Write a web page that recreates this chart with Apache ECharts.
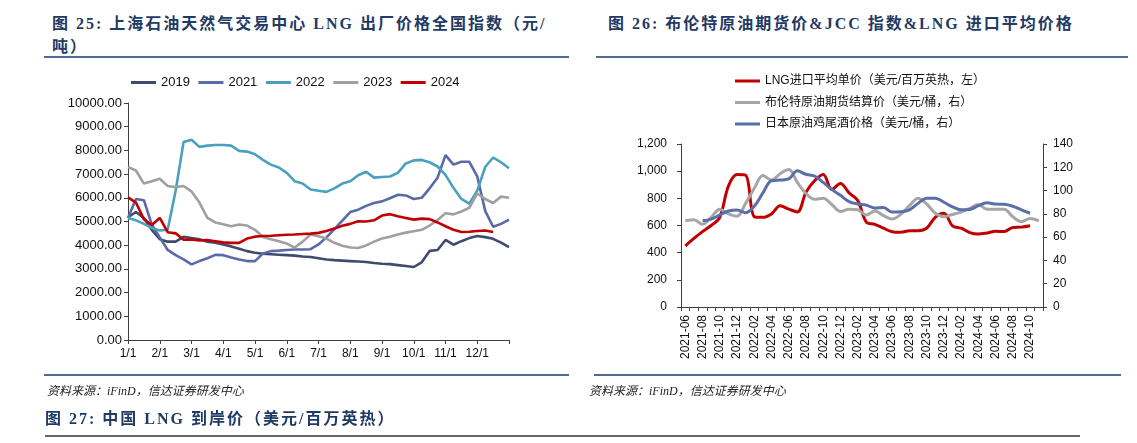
<!DOCTYPE html>
<html><head><meta charset="utf-8">
<script src="https://cdn.jsdelivr.net/npm/echarts@6/dist/echarts.min.js"></script>
<style>
body{margin:0;width:1137px;height:443px;overflow:hidden;background:#fff;position:relative;font-family:"Liberation Sans",Arial,sans-serif;}
#chart{position:absolute;left:0;top:0;width:1137px;height:443px;}
.t{position:absolute;font-family:"Liberation Serif","Noto Sans CJK SC",serif;font-weight:bold;color:#1f3a64;font-size:16px;letter-spacing:2px;white-space:nowrap;line-height:20px;}
.rule{position:absolute;height:2px;background:#4e6d99;}
.src{position:absolute;font-family:"Liberation Serif","Noto Sans CJK SC",serif;font-style:italic;font-size:12px;color:#222;white-space:nowrap;line-height:16px;}
</style></head>
<body>
<div class="t" style="left:52px;top:14px;">图 25: 上海石油天然气交易中心 LNG 出厂价格全国指数（元/</div>
<div class="t" style="left:52px;top:37px;">吨）</div>
<div class="rule" style="left:44px;top:56px;width:525px;"></div>
<div class="t" style="left:608px;top:14px;">图 26: 布伦特原油期货价&amp;JCC 指数&amp;LNG 进口平均价格</div>
<div class="rule" style="left:596px;top:56px;width:532px;"></div>
<div id="chart"></div>
<div class="rule" style="left:44px;top:374px;width:525px;"></div>
<div class="rule" style="left:594px;top:374px;width:527px;"></div>
<div class="src" style="left:47px;top:383px;">资料来源：iFinD，信达证券研发中心</div>
<div class="src" style="left:589px;top:383px;">资料来源：iFinD，信达证券研发中心</div>
<div class="t" style="left:45px;top:409px;">图 27: 中国 LNG 到岸价（美元/百万英热）</div>
<div style="position:absolute;left:45px;top:435px;width:1035px;height:2px;background:#666;"></div>
<script>
// ---- Left chart: LNG ex-factory national index (yuan/ton), one point per ~week ----
const dates = ['1/1','1/8','1/16','1/24','2/1','2/8','2/15','2/22','3/1','3/8','3/16','3/24',
  '4/1','4/8','4/16','4/23','5/1','5/8','5/16','5/24','6/1','6/8','6/16','6/23',
  '7/1','7/8','7/16','7/24','8/1','8/8','8/16','8/24','9/1','9/8','9/16','9/23',
  '10/1','10/8','10/16','10/24','11/1','11/8','11/16','11/23','12/1','12/8','12/16','12/24','12/31'];
const s2019 = [5180,5400,5150,4650, 4250,4150,4150,4350, 4300,4250,4150,4100, 4030,3950,3850,3750,
  3680,3640,3620,3600, 3580,3560,3520,3500, 3450,3400,3370,3350, 3330,3310,3290,3250,
  3220,3200,3160,3120, 3080,3280,3760,3800, 4220,4020,4170,4300, 4390,4340,4270,4110, 3920];
const s2021 = [5150,5950,5900,4870, 4330,3800,3580,3400, 3190,3330,3450,3590, 3580,3480,3400,3330,
  3330,3650,3750,3770, 3800,3820,3820,3830, 4030,4330,4680,5040, 5400,5500,5660,5780,
  5850,5980,6130,6100, 5950,6000,6400,6850, 7800,7400,7520,7520, 6900,5450,4780,4900, 5080];
const s2022 = [5150,5050,4900,4730, 4620,4650,6300,8350, 8450,8150,8200,8230, 8230,8200,7980,7950,
  7840,7600,7400,7280, 7050,6700,6600,6350, 6300,6250,6400,6600, 6700,6950,7100,6850,
  6880,6900,7050,7450, 7580,7600,7500,7320, 6970,6420,5950,5750, 6300,7300,7700,7500, 7250];
const s2023 = [7300,7150,6600,6700, 6800,6500,6450,6500, 6270,5800,5150,4960, 4880,4800,4870,4830,
  4650,4350,4250,4170, 4070,3900,4150,4450, 4380,4280,4100,3980, 3900,3880,3990,4150,
  4280,4360,4450,4530, 4590,4650,4830,5060, 5350,5300,5420,5580, 6180,5950,5780,6050, 6000];
const s2024 = [6020,5800,5100,4850, 5150,4550,4500,4230, 4240,4200,4220,4170, 4120,4100,4100,4280,
  4360,4390,4400,4420, 4440,4450,4470,4490, 4520,4600,4700,4820, 4900,5010,5000,5050,
  5250,5310,5220,5150, 5080,5120,5100,4960, 4800,4650,4560,4570, 4600,4620,4560,null, null];

// ---- Right chart: monthly prices ----
const months = ['2021-06','2021-07','2021-08','2021-09','2021-10','2021-11','2021-12',
  '2022-01','2022-02','2022-03','2022-04','2022-05','2022-06','2022-07','2022-08','2022-09','2022-10','2022-11','2022-12',
  '2023-01','2023-02','2023-03','2023-04','2023-05','2023-06','2023-07','2023-08','2023-09','2023-10','2023-11','2023-12',
  '2024-01','2024-02','2024-03','2024-04','2024-05','2024-06','2024-07','2024-08','2024-09','2024-10','2024-11'];
const lngPrice = [450,505,555,600,660,890,975,970,665,660,685,745,720,700,845,930,975,865,910,
  840,785,625,608,580,554,550,561,562,580,660,690,598,580,548,537,545,557,555,586,588,598,null];
const brentPrice = [74,75,71,77,84,80,78,89,102,113,109,114.5,118,107,97.5,92.5,93.5,88,82,
  84,83.5,79,82.5,78.5,75.5,79.5,87,93.5,88.5,80.5,77.6,79.5,81.5,84.8,88,84,84,84,77.5,73.3,76,74];
const jccPrice = [null,null,74,75.5,79,82.5,83.4,81,86.5,98,108.5,109,110,117,114,112.5,107,101,96,
  90.5,88.5,87.5,85,85.5,81.5,81.8,83.5,89,93.5,93.5,90,86,83.5,83.8,87,89.5,88.4,88.2,86.5,83.4,80.5,null];

const leftNames = ['2019','2021','2022','2023','2024'];
const leftColors = ['#404a6d','#5a6aa8','#4aa0bf','#a0a0a0','#c00000'];
const leftData = [s2019,s2021,s2022,s2023,s2024];
const rightNames = ['LNG进口平均单价（美元/百万英热，左）','布伦特原油期货结算价（美元/桶，右）','日本原油鸡尾酒价格（美元/桶，右）'];
const rightColors = ['#c00000','#a6a6a6','#5a6fa8'];

const axisCol = '#404040';
const txt = {color:'#111', fontFamily:'Liberation Sans, Arial, sans-serif'};

const chart = echarts.init(document.getElementById('chart'), null, {renderer:'canvas'});
const series = [];
leftData.forEach((d,i)=>{
  series.push({name:leftNames[i], type:'line', xAxisIndex:0, yAxisIndex:0, data:d,
    showSymbol:false, symbol:'none', connectNulls:false,
    lineStyle:{width:2.6, color:leftColors[i]}, itemStyle:{color:leftColors[i]}, z:2+i});
});
[lngPrice,brentPrice,jccPrice].forEach((d,i)=>{
  series.push({name:rightNames[i], type:'line', xAxisIndex:1, yAxisIndex: i===0?1:2, data:d,
    showSymbol:false, symbol:'none', smooth:0.35,
    lineStyle:{width:3, color:rightColors[i]}, itemStyle:{color:rightColors[i]}, z:2+i});
});

chart.setOption({
  animation:false,
  backgroundColor:'transparent',
  textStyle:txt,
  legend:[
    {data:leftNames, left:126, top:71, itemWidth:25, itemHeight:3, itemGap:8.5, icon:'rect',
     textStyle:{fontSize:13, color:'#111', fontFamily:'Liberation Sans, Arial, sans-serif'}},
    {data:rightNames, orient:'vertical', left:730, top:70, itemWidth:25, itemHeight:3, itemGap:9.5, icon:'rect',
     textStyle:{fontSize:12, color:'#111', fontFamily:'Liberation Sans, Noto Sans CJK SC, sans-serif'}}
  ],
  grid:[
    {left:128, top:103, width:381, height:237, containLabel:false},
    {left:681, top:144, width:362, height:163, containLabel:false}
  ],
  xAxis:[
    {type:'category', gridIndex:0, data:dates, boundaryGap:false,
     axisLine:{lineStyle:{color:axisCol, width:1}},
     axisTick:{show:true, length:4, interval:(i)=> i%4===0, lineStyle:{color:axisCol}},
     axisLabel:{interval:(i)=> i%4===0 && i<48, fontSize:12, color:'#111', margin:8},
     splitLine:{show:false}},
    {type:'category', gridIndex:1, data:months, boundaryGap:true,
     axisLine:{lineStyle:{color:axisCol, width:1}},
     axisTick:{show:true, length:4, interval:0, lineStyle:{color:axisCol}},
     axisLabel:{interval:1, rotate:90, fontSize:12, color:'#111', margin:8},
     splitLine:{show:false}}
  ],
  yAxis:[
    {type:'value', gridIndex:0, min:0, max:10000, interval:1000,
     axisLine:{show:true, lineStyle:{color:axisCol}},
     axisTick:{show:true, length:4, lineStyle:{color:axisCol}},
     axisLabel:{fontSize:13, color:'#111', margin:6, formatter:(v)=>v.toFixed(2)},
     splitLine:{show:false}},
    {type:'value', gridIndex:1, min:0, max:1200, interval:200, position:'left',
     axisLine:{show:true, lineStyle:{color:axisCol}},
     axisTick:{show:true, length:4, lineStyle:{color:axisCol}},
     axisLabel:{fontSize:12, color:'#111', margin:14, formatter:(v)=>v.toLocaleString('en-US')},
     splitLine:{show:false}},
    {type:'value', gridIndex:1, min:0, max:140, interval:20, position:'right',
     axisLine:{show:true, lineStyle:{color:axisCol}},
     axisTick:{show:true, length:4, lineStyle:{color:axisCol}},
     axisLabel:{fontSize:12, color:'#111', margin:10},
     splitLine:{show:false}}
  ],
  series:series
});
</script>
</body></html>
